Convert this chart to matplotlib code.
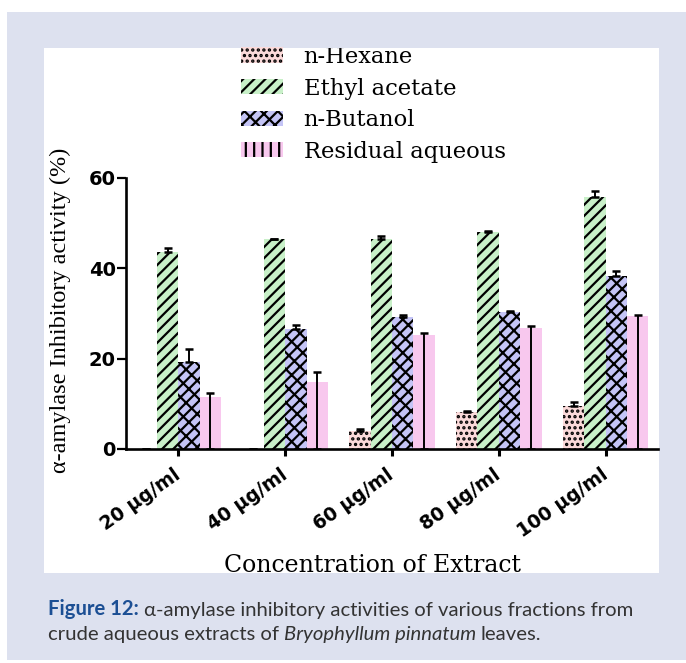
import numpy as np
import matplotlib
matplotlib.use("Agg")
import matplotlib.pyplot as plt
import matplotlib.transforms as mtransforms
from matplotlib.patches import Rectangle, Patch

# ---------------------------------------------------
# DATA
# ---------------------------------------------------
concentrations = ["20 µg/ml", "40 µg/ml", "60 µg/ml", "80 µg/ml", "100 µg/ml"]
fractions = ["n-Hexane", "Ethyl acetate", "n-Butanol", "Residual aqueous"]

hexane = [0.0, 0.0, 4.0, 8.2, 9.5]
hexane_err = [0.0, 0.0, 0.5, 0.2, 0.8]
ethyl = [43.7, 46.4, 46.6, 48.0, 55.9]
ethyl_err = [0.8, 0.2, 0.6, 0.3, 1.2]
butanol = [19.2, 26.6, 29.2, 30.3, 38.4]
butanol_err = [2.9, 0.9, 0.4, 0.3, 1.1]
residual = [11.6, 14.8, 25.2, 26.7, 29.4]
residual_err = [0.8, 2.2, 0.4, 0.5, 0.3]

caption_label = "Figure 12:"
caption_line1 = "α-amylase inhibitory activities of various fractions from"
caption_line2a = "crude aqueous extracts of"
caption_line2b = "Bryophyllum pinnatum"
caption_line2c = "leaves."

# ---------------------------------------------------
# STYLE
# ---------------------------------------------------
fill_colors = ["#fbdada", "#c8f0c8", "#c4c4f6", "#f8c8ee"]
hatches = ["...", "///", "///\\\\", ""]
legend_hatches = ["...", "///", "///\\\\", "||"]
panel_blue = "#dde1ef"
caption_blue = "#1c4f94"
caption_grey = "#333333"

plt.rcParams["hatch.linewidth"] = 1.6

W, H = 686, 663
def fx(px):
    return px / W
def fy(py):
    return 1 - py / H

fig = plt.figure(figsize=(W / 100, H / 100), dpi=100)
fig.patch.set_facecolor("white")

bg = Rectangle((fx(7), fy(660)), fx(686) - fx(7), fy(12) - fy(660),
               transform=fig.transFigure, facecolor=panel_blue, edgecolor="none", zorder=-10)
fig.add_artist(bg)
white = Rectangle((fx(44), fy(573)), fx(659) - fx(44), fy(48) - fy(573),
                  transform=fig.transFigure, facecolor="white", edgecolor="none", zorder=-9)
fig.add_artist(white)

ax = fig.add_axes([fx(126), fy(449), fx(658) - fx(126), fy(178) - fy(449)])
ax.set_facecolor("none")

# ---------------------------------------------------
# BARS
# ---------------------------------------------------
x = np.arange(len(concentrations))
w = 0.2
series = [hexane, ethyl, butanol, residual]
errors = [hexane_err, ethyl_err, butanol_err, residual_err]
for i, (vals, errs) in enumerate(zip(series, errors)):
    pos = x + (i - 1.5) * w
    ax.bar(pos, vals, width=w, color=fill_colors[i], edgecolor="black",
           linewidth=0, hatch=hatches[i], zorder=1)
    vals = np.array(vals)
    errs = np.array(errs)
    if i == 3:
        # error line drawn from the baseline through the plain bar
        yerr = [vals, errs]
    else:
        yerr = [np.zeros_like(errs), errs]
    ax.errorbar(pos, vals, yerr=yerr, fmt="none", ecolor="black",
                elinewidth=1.4, capsize=2.6, capthick=1.8, zorder=3)

ax.set_xlim(-0.49, 4.49)
ax.set_ylim(0, 60)
ax.set_yticks([0, 20, 40, 60])
ax.set_xticks(x)
ax.set_xticklabels(concentrations, rotation=35, ha="right", va="center",
                   rotation_mode="anchor", fontsize=13.5, fontweight="bold",
                   family="DejaVu Sans")
shift = mtransforms.ScaledTranslation(8 / 100, -3 / 100, fig.dpi_scale_trans)
for lab in ax.get_xticklabels():
    lab.set_transform(lab.get_transform() + shift)
for lab in ax.get_yticklabels():
    lab.set_fontsize(14)
    lab.set_fontweight("bold")
    lab.set_family("DejaVu Sans")

for s in ["top", "right"]:
    ax.spines[s].set_visible(False)
ax.spines["left"].set_linewidth(1.9)
ax.spines["bottom"].set_linewidth(1.9)
ax.tick_params(axis="y", length=6.5, width=1.6, pad=1)
ax.tick_params(axis="x", length=5, width=2.2, pad=12)

ax.set_ylabel("α-amylase Inhibitory activity (%)", family="Liberation Serif", fontsize=17.5)
ax.yaxis.set_label_coords(-0.104, 0.51)

xl = fig.text(fx(372), fy(571.5), "Concentration of Extract", family="DejaVu Serif",
              fontsize=17, ha="center", va="baseline")
xl.set_clip_path(white)

# ---------------------------------------------------
# LEGEND
# ---------------------------------------------------
handles = [Patch(facecolor=fill_colors[i], edgecolor="black", linewidth=0,
                 hatch=legend_hatches[i]) for i in range(4)]
leg = fig.legend(handles, fractions, loc="upper left", bbox_to_anchor=(fx(241), fy(46)),
                 frameon=False, prop={"family": "DejaVu Serif", "size": 16.3},
                 handlelength=1.85, handleheight=0.65, handletextpad=0.92,
                 labelspacing=0.42, borderpad=0, borderaxespad=0)
for t in leg.get_texts():
    t.set_clip_path(white)

# ---------------------------------------------------
# CAPTION
# ---------------------------------------------------
cap_font = "Lato"
cap_size = 14.6
t1 = fig.text(fx(48), fy(619), caption_label, family=cap_font, fontsize=cap_size,
              fontweight="bold", color=caption_blue, ha="left", va="bottom")
fig.add_artist(plt.Annotation(caption_line1, xy=(1, 0), xycoords=t1, xytext=(3.5, 0),
                              textcoords="offset points", ha="left", va="bottom",
                              family=cap_font, fontsize=cap_size, color=caption_grey))
t2 = fig.text(fx(48), fy(643), caption_line2a, family=cap_font, fontsize=cap_size,
              color=caption_grey, ha="left", va="bottom")
t3 = plt.Annotation(caption_line2b, xy=(1, 0), xycoords=t2, xytext=(3.5, 0),
                    textcoords="offset points", ha="left", va="bottom",
                    family=cap_font, fontsize=cap_size, style="italic", color=caption_grey)
fig.add_artist(t3)
fig.add_artist(plt.Annotation(caption_line2c, xy=(1, 0), xycoords=t3, xytext=(3.5, 0),
                              textcoords="offset points", ha="left", va="bottom",
                              family=cap_font, fontsize=cap_size, color=caption_grey))

fig.savefig("out.png", dpi=100, facecolor="white")
plt.close()
